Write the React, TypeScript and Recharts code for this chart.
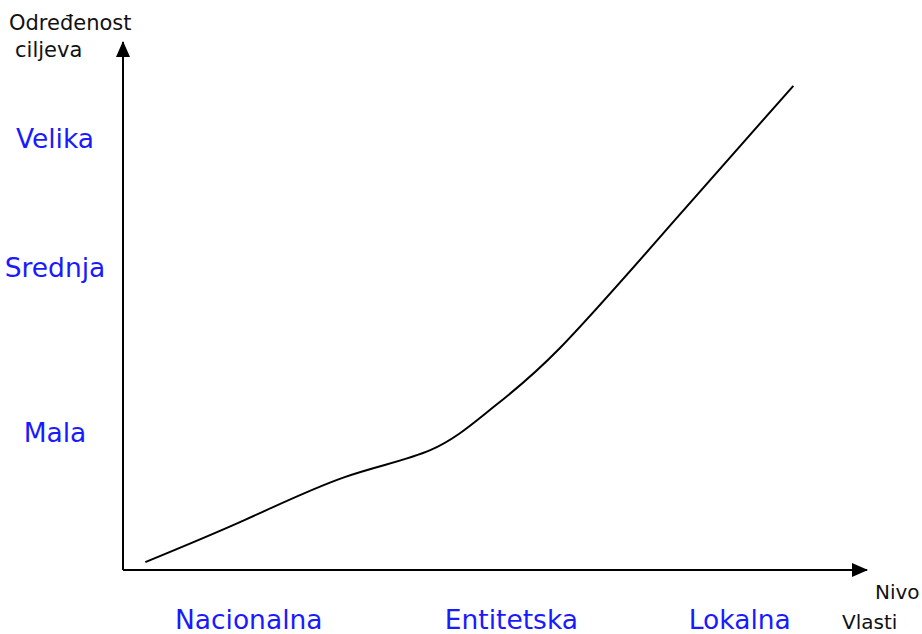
import React from 'react';
import { LineChart, Line, XAxis, YAxis } from 'recharts';

const xPositions = [3.0, 16.4, 29.8, 41.3, 49.3, 58.7, 74.2, 90.1];
const goalValues = [1.5, 9.5, 17.6, 22.7, 30.3, 42.0, 66.3, 91.7];

const levelTicks = [16.9, 52.2, 82.9];
const levelLabels = ['Nacionalna', 'Entitetska', 'Lokalna'];
const goalTicks = [26.0, 57.2, 81.7];
const goalLabels = ['Mala', 'Srednja', 'Velika'];

const data = xPositions.map((x, i) => ({ x, y: goalValues[i] }));

const FONT = '"DejaVu Sans", sans-serif';
const BLUE = '#1a1aff';

const XTick = (props: any) => {
  const { x, payload } = props;
  const idx = levelTicks.indexOf(payload.value);
  return (
    <text x={x} y={629} textAnchor="middle" fill={BLUE} fontFamily={FONT} fontSize={26.5}>
      {levelLabels[idx]}
    </text>
  );
};

const YTick = (props: any) => {
  const { y, payload } = props;
  const idx = goalTicks.indexOf(payload.value);
  return (
    <text x={55} y={y + 9.5} textAnchor="middle" fill={BLUE} fontFamily={FONT} fontSize={26.5}>
      {goalLabels[idx]}
    </text>
  );
};

const YTitle = () => (
  <text fontFamily={FONT} fontSize={21} fill="#111">
    <tspan x={9} y={30}>Određenost</tspan>
    <tspan x={15} y={57}>ciljeva</tspan>
  </text>
);

const XTitle = () => (
  <text fontFamily={FONT} fontSize={20} fill="#111">
    <tspan x={875} y={599}>Nivo</tspan>
    <tspan x={842} y={629}>Vlasti</tspan>
  </text>
);

export default function App() {
  return (
    <div style={{ position: 'absolute', left: 0, top: 0, width: 922, height: 634, background: '#fff' }}>
      <svg width={0} height={0} style={{ position: 'absolute' }}>
        <defs>
          <marker
            id="arrowhead"
            viewBox="0 0 16 16"
            refX={15}
            refY={8}
            markerWidth={16}
            markerHeight={16}
            markerUnits="userSpaceOnUse"
            orient="auto-start-reverse"
          >
            <path d="M0,1 L16,8 L0,15 Z" fill="#000" />
          </marker>
        </defs>
      </svg>
      <LineChart width={922} height={634} data={data} margin={{ top: 42, right: 55, bottom: 0, left: 0 }}>
        <XAxis
          dataKey="x"
          type="number"
          domain={[0, 100]}
          ticks={levelTicks}
          tick={<XTick />}
          tickLine={false}
          height={64}
          axisLine={{ stroke: '#000', strokeWidth: 2, markerEnd: 'url(#arrowhead)' }}
          label={{ content: () => <XTitle /> }}
        />
        <YAxis
          type="number"
          domain={[0, 100]}
          ticks={goalTicks}
          tick={<YTick />}
          tickLine={false}
          width={123}
          axisLine={{ stroke: '#000', strokeWidth: 2, markerStart: 'url(#arrowhead)' }}
          label={{ content: () => <YTitle /> }}
        />
        <Line
          dataKey="y"
          type="natural"
          stroke="#000"
          strokeWidth={2}
          dot={false}
          isAnimationActive={false}
        />
      </LineChart>
    </div>
  );
}
